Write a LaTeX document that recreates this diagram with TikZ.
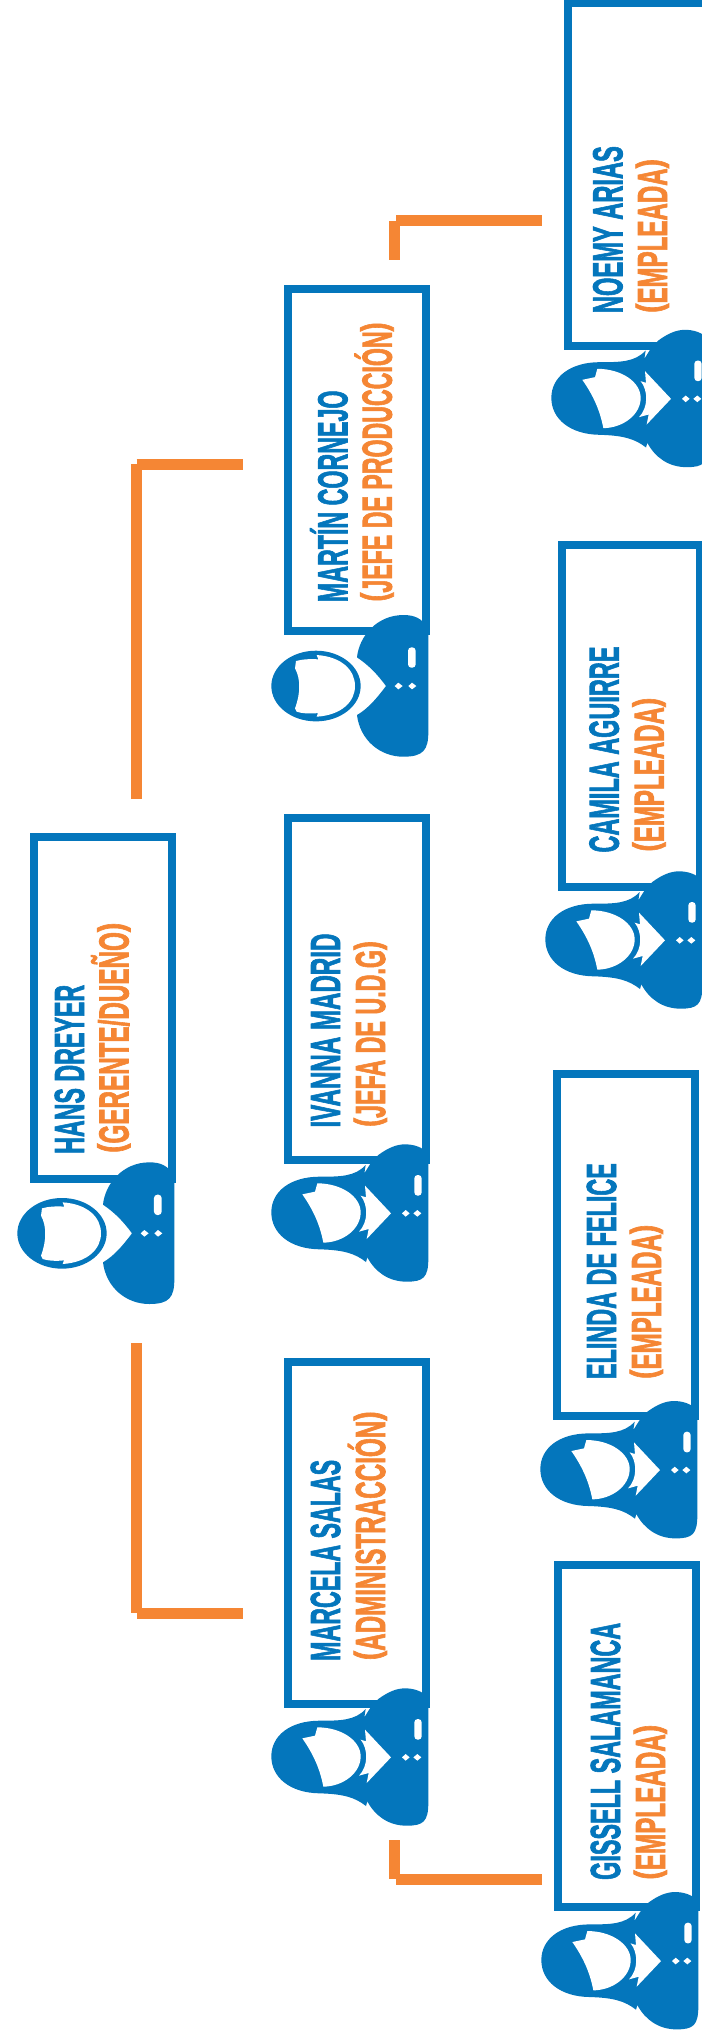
\documentclass[tikz,border=0pt]{standalone}
\usepackage{fontspec}
\newfontfamily\condfont{Liberation Sans}[BoldFeatures={FakeBold=2.2}]
\definecolor{cblue}{HTML}{0476BC}
\definecolor{corange}{HTML}{F58634}
\newcommand{\fitw}[2]{\resizebox{#1pt}{\height}{#2}}
\newcommand{\lpar}{\raisebox{.13em}{\scalebox{1.15}[.85]{(}}}
\newcommand{\rpar}{\raisebox{.13em}{\scalebox{1.15}[.85]{)}}}
\tikzset{
  x=1pt,y=-1pt,
  personbox/.style={draw=cblue,line width=8pt,fill=white,minimum width=138pt,minimum height=342pt,inner sep=0pt},
  nametext/.style={text=cblue,rotate=90,anchor=base west,inner sep=0pt,font=\condfont\bfseries\fontsize{42}{42}\selectfont},
  roletext/.style={text=corange,rotate=90,anchor=base west,inner sep=0pt,font=\condfont\bfseries\fontsize{42}{42}\selectfont},
  orangeline/.style={draw=corange,line width=11pt,line cap=butt},
  icon/.style={fill=cblue,draw=none},
  hole/.style={fill=white,draw=none},
  male/.pic={
    \begin{scope}[shift={(-24,-35.667)},scale=1/3]
      \fill[icon] (168,258) ellipse [x radius=134,y radius=106];
      \fill[hole] (170,165) .. controls (245,170) and (285,210) .. (285,258)
        .. controls (285,305) and (245,345) .. (170,350) -- (174,339)
        .. controls (150,342) and (125,340) .. (110,335) -- (105,325)
        .. controls (122,280) and (122,235) .. (105,205) -- (108,183)
        .. controls (125,178) and (150,176) .. (175,178) -- cycle;
      \fill[icon] (291,172) .. controls (297,110) and (350,45) .. (430,45)
        .. controls (465,45) and (485,55) .. (505,85) -- (505,395)
        .. controls (505,450) and (490,470) .. (430,470)
        .. controls (360,470) and (300,420) .. (291,345)
        .. controls (325,325) and (350,295) .. (378,258)
        .. controls (350,220) and (325,195) .. (291,172) -- cycle;
      \fill[hole,rounded corners=10pt/3] (444,142) rectangle (467,203);
      \fill[hole] (404,258) -- (415,248) -- (428,258) -- (415,268) -- cycle;
      \fill[hole] (445,258) -- (456,248) -- (469,258) -- (456,268) -- cycle;
    \end{scope}
  },
  female/.pic={
    \begin{scope}[shift={(-24,-29)},scale=1/3]
      \fill[icon] (355,60) .. controls (385,38) and (410,28) .. (435,28)
        .. controls (460,28) and (485,35) .. (505,55) -- (505,370)
        .. controls (505,428) and (490,440) .. (440,440)
        .. controls (385,440) and (345,410) .. (322,367) -- (318,381)
        .. controls (285,355) and (250,345) .. (180,343)
        .. controls (90,342) and (34,295) .. (34,232)
        .. controls (34,170) and (90,125) .. (180,125)
        .. controls (240,125) and (285,125) .. (317,90)
        -- (313,115) -- (330,88) -- cycle;
      \fill[hole] (127,178) -- (165,170) -- (172,145)
        .. controls (245,145) and (302,185) .. (302,232)
        .. controls (302,282) and (250,322) .. (190,323)
        .. controls (180,270) and (160,225) .. (127,178) -- cycle;
      \fill[hole] (315,152) -- (393,235) -- (320,312) -- (326,282) -- (297,290)
        .. controls (325,262) and (325,210) .. (302,182) -- (318,187) -- cycle;
      \fill[hole,rounded corners=10pt/3] (463,120) rectangle (485,182);
      \fill[hole] (426,235) -- (437,225) -- (449,235) -- (437,245) -- cycle;
      \fill[hole] (460,235) -- (472,225) -- (484,235) -- (472,245) -- cycle;
    \end{scope}
  }
}
\begin{document}
\begin{tikzpicture}
\useasboundingbox (0,0) rectangle (701,2036);
\fill[white] (0,0) rectangle (701,2036);

% connectors
\coordinate (ua) at (136.8,799);
\coordinate (ub) at (136.8,464);
\coordinate (uc) at (136.7,464.5);
\coordinate (ud) at (243,464.5);
\coordinate (la) at (136.8,1343);
\coordinate (lb) at (136.8,1613);
\coordinate (lc) at (136.7,1613.5);
\coordinate (ld) at (243,1613.5);
\coordinate (ma) at (394.7,260);
\coordinate (mb) at (394.7,221);
\coordinate (mc) at (396,220.5);
\coordinate (md) at (542,220.5);
\coordinate (na) at (394.7,1840);
\coordinate (nb) at (394.7,1879);
\coordinate (nc) at (396,1879.5);
\coordinate (nd) at (542,1879.5);
\draw[orangeline] (ua) -- (ub);
\draw[orangeline] (uc) -- (ud);
\draw[orangeline] (la) -- (lb);
\draw[orangeline] (lc) -- (ld);
\draw[orangeline] (ma) -- (mb);
\draw[orangeline] (mc) -- (md);
\draw[orangeline] (na) -- (nb);
\draw[orangeline] (nc) -- (nd);

% boxes
\node[personbox] (hans) at (103,1008) {};
\node[personbox] (martin) at (357,460.3) {};
\node[personbox] (ivanna) at (357,989) {};
\node[personbox] (marcela) at (357,1533) {};
\node[personbox] (noemy) at (637,174.5) {};
\node[personbox] (camila) at (631,716) {};
\node[personbox] (elinda) at (626,1245.3) {};
\node[personbox] (gissell) at (627,1736.3) {};

% icons
\pic at (30,1183) {male};
\pic at (284,635.7) {male};
\pic at (284,1164) {female};
\pic at (284,1708) {female};
\pic at (564,349.5) {female};
\pic at (558,891) {female};
\pic at (553,1420.7) {female};
\pic at (554,1911.7) {female};

% texts
\node[nametext] (hansn) at (84,1154) {\fitw{169}{HANS DREYER}};
\node[roletext] (hansr) at (128.5,1153) {\fitw{230}{\lpar GERENTE/DUEÑO\rpar}};
\node[nametext] (martinn) at (347.3,602.3) {\fitw{211.6}{MARTÍN CORNEJO}};
\node[roletext] (martinr) at (391.7,601.7) {\fitw{279}{\lpar JEFE DE PRODUCCIÓN\rpar}};
\node[nametext] (ivannan) at (340,1127.7) {\fitw{194}{IVANNA MADRID}};
\node[roletext] (ivannar) at (385,1127) {\fitw{185.7}{\lpar JEFA DE U.D.G\rpar}};
\node[nametext] (marcelan) at (340,1661) {\fitw{201}{MARCELA SALAS}};
\node[roletext] (marcelar) at (385,1660.3) {\fitw{248.7}{\lpar ADMINISTRACCIÓN\rpar}};
\node[nametext] (noemyn) at (622.3,313.3) {\fitw{167}{NOEMY ARIAS}};
\node[roletext] (noemyr) at (667,313) {\fitw{153.7}{\lpar EMPLEADA\rpar}};
\node[nametext] (camilan) at (618.7,852.7) {\fitw{206}{CAMILA AGUIRRE}};
\node[roletext] (camilar) at (663.7,851.7) {\fitw{153.7}{\lpar EMPLEADA\rpar}};
\node[nametext] (elindan) at (616,1379.3) {\fitw{216}{ELINDA DE FELICE}};
\node[roletext] (elindar) at (661,1379) {\fitw{154}{\lpar EMPLEADA\rpar}};
\node[nametext] (gisselln) at (620,1880) {\fitw{257}{GISSELL SALAMANCA}};
\node[roletext] (gisselr) at (665,1879.7) {\fitw{154.7}{\lpar EMPLEADA\rpar}};
\end{tikzpicture}
\end{document}
